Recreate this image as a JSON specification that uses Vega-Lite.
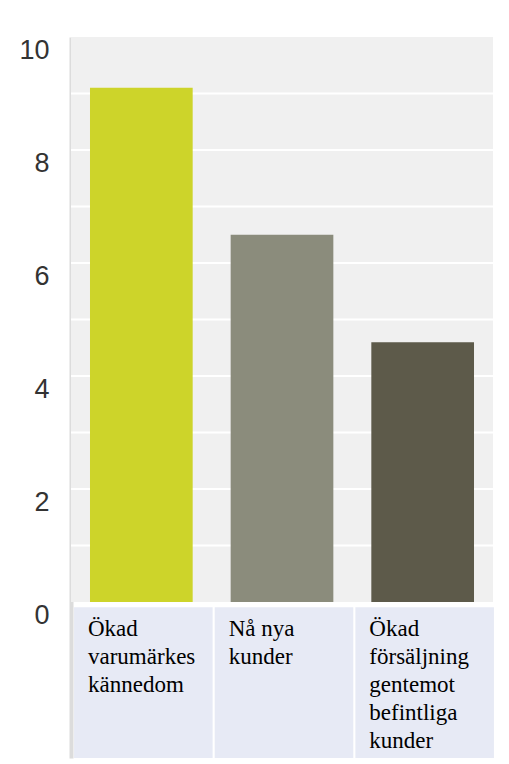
{
  "$schema": "https://vega.github.io/schema/vega-lite/v6.json",
  "autosize": "none",
  "width": 422,
  "height": 721,
  "padding": {"left": 71, "top": 37, "right": 16, "bottom": 6},
  "config": {
    "view": {"stroke": null},
    "text": {"font": "Liberation Serif"}
  },
  "data": {
    "values": [
      {"kategori": "Ökad\nvarumärkes\nkännedom", "varde": 9.1},
      {"kategori": "Nå nya\nkunder", "varde": 6.5},
      {"kategori": "Ökad\nförsäljning\ngentemot\nbefintliga\nkunder", "varde": 4.6}
    ]
  },
  "layer": [
    {
      "data": {"values": [{"lo": 0, "hi": 10}]},
      "mark": {"type": "rect", "color": "#f0f0f0"},
      "encoding": {
        "y": {
          "field": "hi",
          "type": "quantitative",
          "scale": {"domain": [-2.76, 10], "nice": false, "zero": false},
          "axis": {
            "values": [0, 2, 4, 6, 8, 10],
            "format": "d",
            "title": null,
            "grid": false,
            "ticks": false,
            "domain": true,
            "domainColor": "#dcdcdc",
            "domainWidth": 4,
            "labelFont": "Liberation Sans",
            "labelFontSize": 27,
            "labelColor": "#333333",
            "labelPadding": 22,
            "labelOffset": 13
          }
        },
        "y2": {"field": "lo"}
      }
    },
    {
      "data": {"values": [{"v": 1}, {"v": 2}, {"v": 3}, {"v": 4}, {"v": 5}, {"v": 6}, {"v": 7}, {"v": 8}, {"v": 9}]},
      "mark": {"type": "rule", "color": "#ffffff", "strokeWidth": 2},
      "encoding": {"y": {"field": "v", "type": "quantitative"}}
    },
    {
      "mark": {"type": "bar", "width": {"band": 0.73}},
      "encoding": {
        "x": {
          "field": "kategori",
          "type": "nominal",
          "sort": null,
          "scale": {"paddingInner": 0, "paddingOuter": 0},
          "axis": null
        },
        "y": {"field": "varde", "type": "quantitative"},
        "y2": {"datum": 0},
        "color": {
          "field": "kategori",
          "type": "nominal",
          "sort": null,
          "scale": {"range": ["#cdd42a", "#8b8c7c", "#5d5a4a"]},
          "legend": null
        }
      }
    },
    {
      "mark": {"type": "bar", "color": "#e7eaf5", "width": {"band": 0.985}, "xOffset": 2},
      "encoding": {
        "x": {"field": "kategori", "type": "nominal", "sort": null},
        "y": {"datum": -0.09},
        "y2": {"datum": -2.76}
      }
    },
    {
      "mark": {
        "type": "text",
        "align": "left",
        "baseline": "top",
        "font": "Liberation Serif",
        "fontSize": 23,
        "lineHeight": 28,
        "lineBreak": "\n",
        "color": "#000000",
        "xOffset": 17,
        "dy": 11
      },
      "encoding": {
        "x": {"field": "kategori", "type": "nominal", "sort": null, "bandPosition": 0},
        "y": {"datum": -0.09},
        "text": {"field": "kategori"}
      }
    }
  ]
}
